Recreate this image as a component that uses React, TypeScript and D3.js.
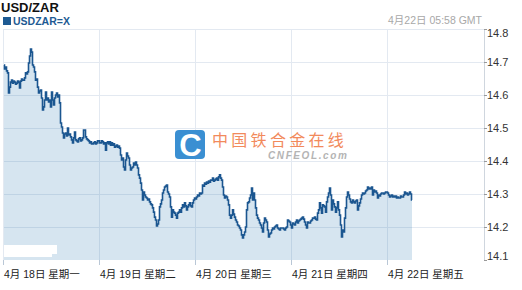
import React from "react";
import * as d3 from "d3";

// Header texts
const TITLE = "USD/ZAR";
const SYMBOL = "USDZAR=X";
const STAMP = "4月22日 05:58 GMT";

// One label per trading day (x axis)
const DAY_LABELS = [
  "4月 18日 星期一",
  "4月 19日 星期二",
  "4月 20日 星期三",
  "4月 21日 星期四",
  "4月 22日 星期五",
];

// Price axis ticks
const Y_TICKS = [14.1, 14.2, 14.3, 14.4, 14.5, 14.6, 14.7, 14.8];

// Quotes: one every 15 minutes from 18 Apr 2011 00:00 GMT
const START_UTC = Date.UTC(2011, 3, 18);
const STEP_MINUTES = 15;
const RATES = [
  14.691, 14.679, 14.685, 14.673, 14.667, 14.606, 14.624, 14.639, 14.645, 14.636,
  14.642, 14.639, 14.633, 14.636, 14.642, 14.639, 14.621, 14.642, 14.648, 14.645,
  14.645, 14.652, 14.667, 14.664, 14.670, 14.697, 14.718, 14.739, 14.730, 14.691,
  14.685, 14.670, 14.645, 14.648, 14.624, 14.606, 14.612, 14.615, 14.591, 14.555,
  14.564, 14.585, 14.609, 14.585, 14.591, 14.579, 14.585, 14.564, 14.609, 14.585,
  14.570, 14.591, 14.600, 14.606, 14.594, 14.600, 14.576, 14.515, 14.503, 14.485,
  14.470, 14.482, 14.485, 14.476, 14.500, 14.479, 14.482, 14.473, 14.464, 14.455,
  14.470, 14.488, 14.464, 14.461, 14.458, 14.467, 14.470, 14.461, 14.464, 14.470,
  14.494,
  // 19 Apr
  14.494, 14.473, 14.467, 14.464, 14.461, 14.455, 14.458, 14.452, 14.452, 14.455,
  14.458, 14.452, 14.455, 14.461, 14.461, 14.455, 14.455, 14.461, 14.458, 14.452,
  14.455, 14.433, 14.455, 14.458, 14.452, 14.458, 14.448, 14.455, 14.448, 14.452,
  14.442, 14.445, 14.448, 14.442, 14.445, 14.439, 14.418, 14.403, 14.409, 14.382,
  14.373, 14.403, 14.424, 14.415, 14.409, 14.388, 14.373, 14.379, 14.382, 14.394,
  14.388, 14.397, 14.388, 14.379, 14.358, 14.348, 14.333, 14.312, 14.282, 14.306,
  14.297, 14.291, 14.288, 14.282, 14.285, 14.276, 14.270, 14.267, 14.258, 14.245,
  14.230, 14.221, 14.203, 14.209, 14.221, 14.261,
  // 20 Apr
  14.270, 14.282, 14.303, 14.312, 14.321, 14.324, 14.327, 14.306, 14.300, 14.291,
  14.261, 14.230, 14.252, 14.245, 14.242, 14.236, 14.227, 14.242, 14.245, 14.252,
  14.245, 14.258, 14.267, 14.261, 14.273, 14.264, 14.252, 14.261, 14.267, 14.273,
  14.264, 14.261, 14.273, 14.282, 14.288, 14.285, 14.291, 14.297, 14.294, 14.303,
  14.300, 14.303, 14.327, 14.324, 14.333, 14.330, 14.336, 14.333, 14.339, 14.336,
  14.342, 14.342, 14.348, 14.339, 14.342, 14.345, 14.348, 14.342, 14.352, 14.358,
  14.348, 14.342, 14.321, 14.297, 14.288, 14.294, 14.291, 14.282, 14.267, 14.236,
  14.227, 14.236, 14.252, 14.239, 14.230, 14.221, 14.215, 14.206, 14.203,
  // 20 Apr (late) / 21 Apr
  14.197, 14.191, 14.176, 14.167, 14.176, 14.185, 14.200, 14.252, 14.273, 14.276,
  14.288, 14.297, 14.318, 14.282, 14.303, 14.282, 14.258, 14.236, 14.227, 14.221,
  14.212, 14.206, 14.197, 14.185, 14.212, 14.227, 14.221, 14.215, 14.191, 14.170,
  14.179, 14.182, 14.191, 14.197, 14.194, 14.200, 14.203, 14.206, 14.197, 14.194,
  14.191, 14.197, 14.197, 14.197, 14.194, 14.191, 14.197, 14.200, 14.221, 14.218,
  14.215, 14.206, 14.197, 14.212, 14.209, 14.206, 14.215, 14.221, 14.212, 14.218,
  14.221, 14.224, 14.227, 14.230, 14.224, 14.215, 14.206, 14.197, 14.215, 14.212,
  14.212, 14.218, 14.221, 14.227, 14.227, 14.230, 14.224, 14.221, 14.242, 14.252,
  // 21 Apr (late) / 22 Apr
  14.273, 14.258, 14.242, 14.267, 14.264, 14.261, 14.245, 14.276, 14.291, 14.303,
  14.318, 14.297, 14.252, 14.282, 14.270, 14.261, 14.245, 14.258, 14.276, 14.252,
  14.236, 14.206, 14.170, 14.191, 14.185, 14.227, 14.258, 14.291, 14.306, 14.297,
  14.285, 14.276, 14.273, 14.282, 14.276, 14.273, 14.279, 14.282, 14.252, 14.264,
  14.273, 14.285, 14.297, 14.303, 14.300, 14.303, 14.309, 14.312, 14.321, 14.315,
  14.318, 14.315, 14.321, 14.297, 14.312, 14.306, 14.309, 14.303, 14.288, 14.297,
  14.294, 14.300, 14.303, 14.303, 14.300, 14.303, 14.306, 14.306, 14.303, 14.297,
  14.291, 14.294, 14.297, 14.291, 14.294, 14.291, 14.294, 14.288, 14.291, 14.288,
  14.288, 14.294, 14.291, 14.291, 14.297, 14.306, 14.300, 14.303, 14.297, 14.300,
  14.306, 14.300, 14.282,
];

const W = 522;
const H = 290;
const PLOT = { left: 4, right: 484, top: 29, bottom: 260 };
const FONT = "Arial, 'Liberation Sans', 'Noto Sans CJK SC', sans-serif";

export default function App() {
  const data = RATES.map((v, i) => ({
    t: new Date(START_UTC + i * STEP_MINUTES * 60000),
    v,
  }));

  const dayStarts = DAY_LABELS.map((_, i) => new Date(START_UTC + i * 86400000));
  const x = d3
    .scaleUtc()
    .domain([new Date(START_UTC), new Date(START_UTC + DAY_LABELS.length * 86400000)])
    .range([PLOT.left, PLOT.right]);
  const y = d3
    .scaleLinear()
    .domain([Y_TICKS[0], Y_TICKS[Y_TICKS.length - 1]])
    .range([PLOT.bottom, PLOT.top]);

  // step-like path gives the pixel-stair look of tick data
  const line = d3
    .line<{ t: Date; v: number }>()
    .x((d) => x(d.t))
    .y((d) => y(d.v))
    .curve(d3.curveStep);
  const area = d3
    .area<{ t: Date; v: number }>()
    .x((d) => x(d.t))
    .y0(y(Y_TICKS[0]))
    .y1((d) => y(d.v))
    .curve(d3.curveStep);

  const gridColor = "#e3e9f1";

  return (
    <svg
      width={W}
      height={H}
      style={{ position: "absolute", left: 0, top: 0, display: "block" }}
      fontFamily={FONT}
    >
      <rect x={0} y={0} width={W} height={H} fill="#ffffff" />

      {/* header */}
      <text x={1} y={12} fontSize={13} fontWeight="bold" fill="#111">
        {TITLE}
      </text>
      <rect x={3} y={17} width={8} height={8} fill="#1d5a93" />
      <text x={13} y={24.5} fontSize={10.5} fontWeight="bold" fill="#1d5a93">
        {SYMBOL}
      </text>
      <text x={482} y={24} fontSize={10.5} fill="#a8a8a8" textAnchor="end">
        {STAMP}
      </text>

      {/* grid */}
      {Y_TICKS.slice(1).map((t) => (
        <line
          key={"h" + t}
          x1={PLOT.left}
          x2={PLOT.right}
          y1={Math.round(y(t)) + 0.5}
          y2={Math.round(y(t)) + 0.5}
          stroke={gridColor}
          strokeWidth={1}
        />
      ))}
      {dayStarts.map((d, i) => (
        <line
          key={"v" + i}
          x1={Math.round(x(d)) - 0.5}
          x2={Math.round(x(d)) - 0.5}
          y1={PLOT.top}
          y2={PLOT.bottom}
          stroke={gridColor}
          strokeWidth={1}
        />
      ))}
      <line
        x1={PLOT.right + 0.5}
        x2={PLOT.right + 0.5}
        y1={PLOT.top}
        y2={PLOT.bottom}
        stroke="#cfd6de"
      />

      {/* watermark */}
      <g>
        <rect x={175} y={130} width={30} height={29} rx={4} fill="#3a8fd2" />
        <text
          x={190.5}
          y={156}
          fontSize={31}
          fontWeight="900"
          fill="#ffffff"
          textAnchor="middle"
        >
          C
        </text>
        <text x={212} y={146} fontSize={16} fill="#f28a5c" letterSpacing={3.3}>
          中国铁合金在线
        </text>
        <text
          x={268}
          y={159}
          fontSize={10}
          fontWeight="bold"
          fontStyle="italic"
          fill="#b4b4b4"
          letterSpacing={1.6}
        >
          CNFEOL.com
        </text>
      </g>

      {/* series */}
      <path d={area(data) ?? ""} fill="#196eaa" fillOpacity={0.18} />
      <path
        d={line(data) ?? ""}
        fill="none"
        stroke="#1b5690"
        strokeWidth={1.6}
        strokeLinejoin="miter"
      />

      {/* patch at lower left */}
      <rect x={4} y={245} width={53} height={9} fill="#ffffff" />
      <rect x={4} y={254} width={48} height={3} fill="#ffffff" />

      {/* x axis ticks and labels */}
      {dayStarts.map((d, i) => (
        <g key={"xl" + i}>
          <line
            x1={Math.round(x(d)) - 0.5}
            x2={Math.round(x(d)) - 0.5}
            y1={PLOT.bottom}
            y2={PLOT.bottom + 5}
            stroke="#b9c7d6"
          />
          <text x={x(d)} y={278} fontSize={10.5} fill="#222">
            {DAY_LABELS[i]}
          </text>
        </g>
      ))}

      {/* y axis ticks and labels */}
      {Y_TICKS.map((t, i) => {
        const yy = Math.round(y(t)) + 0.5;
        const last = i === Y_TICKS.length - 1;
        const first = i === 0;
        const ty = first ? yy - 4 : last ? yy + 4 : yy;
        return (
          <g key={"yl" + t}>
            <line x1={PLOT.right} x2={PLOT.right + 3} y1={yy} y2={yy} stroke="#999" />
            <text
              x={PLOT.right + 3}
              y={ty}
              dy="0.35em"
              fontSize={11}
              fill="#333"
            >
              {t.toFixed(1)}
            </text>
          </g>
        );
      })}
    </svg>
  );
}
